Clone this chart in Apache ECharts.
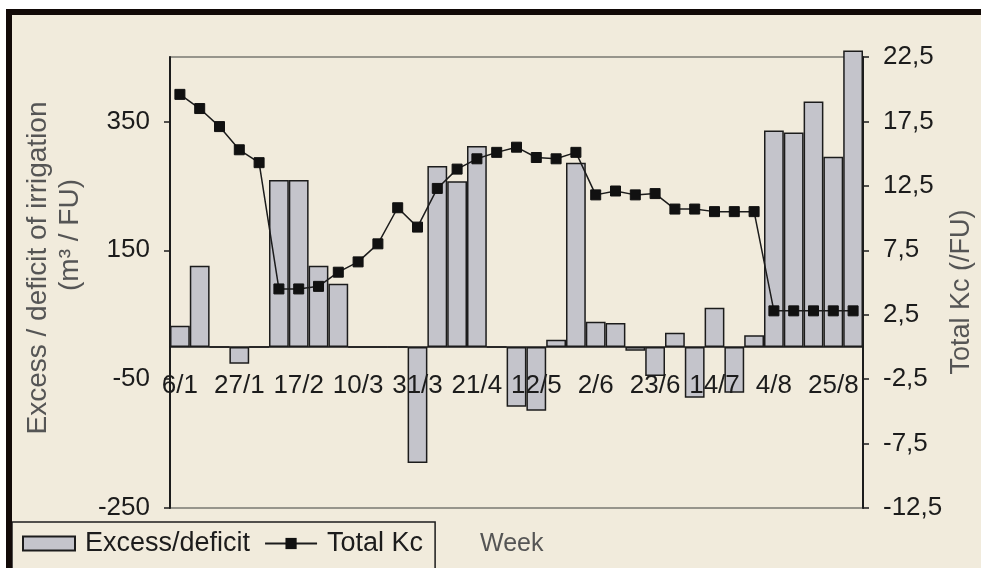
<!DOCTYPE html>
<html>
<head>
<meta charset="utf-8">
<style>
  html, body { margin: 0; padding: 0; background: #f1ebdc; }
  #chart { width: 981px; height: 568px; }
</style>
<script src="https://cdn.jsdelivr.net/npm/echarts@6/dist/echarts.min.js"></script>
</head>
<body>
<div id="chart"></div>
<script>
// Weekly irrigation balance and total crop coefficient
const weeks = [
  '6/1', '13/1', '20/1', '27/1', '3/2', '10/2', '17/2', '24/2', '3/3', '10/3',
  '17/3', '24/3', '31/3', '7/4', '14/4', '21/4', '28/4', '5/5', '12/5', '19/5',
  '26/5', '2/6', '9/6', '16/6', '23/6', '30/6', '7/7', '14/7', '21/7', '28/7',
  '4/8', '11/8', '18/8', '25/8', '1/9'
];

// Excess (+) or deficit (-) of irrigation, m3 per FU
const excessDeficit = [
  33, 126, 0, -26, 0, 259, 259, 126, 98, 0,
  0, 0, -180, 281, 257, 312, 0, -93, -99, 11,
  286, 39, 37, -6, -45, 22, -79, 61, -71, 18,
  336, 333, 381, 295, 460
];

// Total Kc per FU
const totalKc = [
  19.6, 18.5, 17.1, 15.3, 14.3, 4.5, 4.5, 4.7, 5.8, 6.6,
  8.0, 10.8, 9.3, 12.3, 13.8, 14.6, 15.1, 15.5, 14.7, 14.6,
  15.1, 11.8, 12.1, 11.8, 11.9, 10.7, 10.7, 10.5, 10.5, 10.5,
  2.8, 2.8, 2.8, 2.8, 2.8
];

const leftTicks = [-250, -50, 150, 350];
const rightTicks = [-12.5, -7.5, -2.5, 2.5, 7.5, 12.5, 17.5, 22.5];

const FONT = "'Liberation Sans', Arial, Helvetica, sans-serif";
const INK = '#1c1c1c';

const LEFT_MIN = -250, LEFT_MAX = 450;
const GRID = { left: 170, right: 118, top: 57, bottom: 60 };
const plotHeight = 568 - GRID.top - GRID.bottom;
// lift the category axis from the grid bottom up to the zero line of the left axis
const zeroLift = plotHeight * (0 - LEFT_MIN) / (LEFT_MAX - LEFT_MIN);

const chart = echarts.init(document.getElementById('chart'));

chart.setOption({
  backgroundColor: '#f1ebdc',
  animation: false,
  grid: Object.assign({}, GRID, {
    show: true, borderColor: '#7a7a72', borderWidth: 1.5,
    backgroundColor: 'transparent'
  }),
  legend: {
    left: 12, top: 522,
    padding: [8, 12, 14, 10],
    itemGap: 14, itemWidth: 52, itemHeight: 14,
    backgroundColor: '#f1ebdc', borderColor: INK, borderWidth: 1.5,
    textStyle: { fontSize: 27, color: INK, fontFamily: FONT, padding: [0, 0, 0, 5] },
    data: [
      { name: 'Excess/deficit', icon: 'rect' },
      { name: 'Total Kc' }
    ]
  },
  xAxis: {
    type: 'category',
    data: weeks,
    z: 5,
    offset: -zeroLift,
    axisLine: { onZero: false, lineStyle: { color: INK, width: 1.5 } },
    axisTick: { show: false },
    axisLabel: { interval: 2, fontSize: 26, color: INK, fontFamily: FONT, margin: 26 },
    splitLine: { show: false }
  },
  yAxis: [
    {
      type: 'value', min: LEFT_MIN, max: LEFT_MAX,
      axisLine: { show: true, lineStyle: { color: INK, width: 2 } },
      axisTick: { show: true, length: 6, customValues: leftTicks, lineStyle: { color: INK, width: 1.5 } },
      axisLabel: { customValues: leftTicks, fontSize: 26, color: INK, fontFamily: FONT, margin: 20 },
      splitLine: { show: false }
    },
    {
      type: 'value', min: -12.5, max: 22.5,
      axisLine: { show: true, lineStyle: { color: INK, width: 2 } },
      axisTick: { show: true, length: 6, customValues: rightTicks, lineStyle: { color: INK, width: 1.5 } },
      axisLabel: {
        customValues: rightTicks, fontSize: 26, color: INK, fontFamily: FONT, margin: 20,
        formatter: v => v.toFixed(1).replace('.', ',')
      },
      splitLine: { show: false }
    }
  ],
  series: [
    {
      name: 'Excess/deficit',
      type: 'bar',
      yAxisIndex: 0,
      data: excessDeficit,
      barCategoryGap: '0%',
      clip: false,
      itemStyle: { color: '#c4c4cb', borderColor: INK, borderWidth: 1.5 }
    },
    {
      name: 'Total Kc',
      type: 'line',
      yAxisIndex: 1,
      data: totalKc,
      symbol: 'rect',
      symbolSize: 10,
      z: 4,
      lineStyle: { color: INK, width: 1.5 },
      itemStyle: { color: '#111', borderColor: '#111' }
    }
  ],
  graphic: [
    { type: 'rect', z: 100, shape: { x: 0, y: 0, width: 981, height: 9 }, style: { fill: '#ffffff' } },
    { type: 'rect', z: 100, shape: { x: 0, y: 9, width: 6, height: 559 }, style: { fill: '#ffffff' } },
    { type: 'rect', z: 101, shape: { x: 6, y: 9, width: 975, height: 6 }, style: { fill: '#120a08' } },
    { type: 'rect', z: 101, shape: { x: 6, y: 9, width: 6, height: 559 }, style: { fill: '#120a08' } },
    {
      type: 'text', z: 100, x: 38, y: 268, rotation: Math.PI / 2,
      style: { text: 'Excess / deficit of irrigation', fontSize: 28, fontFamily: FONT, fill: '#555', align: 'center', verticalAlign: 'middle' }
    },
    {
      type: 'text', z: 100, x: 70, y: 235, rotation: Math.PI / 2,
      style: { text: '(m³ / FU)', fontSize: 28, fontFamily: FONT, fill: '#555', align: 'center', verticalAlign: 'middle' }
    },
    {
      type: 'text', z: 100, x: 962, y: 292, rotation: Math.PI / 2,
      style: { text: 'Total Kc (/FU)', fontSize: 27, fontFamily: FONT, fill: '#555', align: 'center', verticalAlign: 'middle' }
    },
    {
      type: 'text', z: 100, x: 480, y: 544,
      style: { text: 'Week', fontSize: 25, fontFamily: FONT, fill: '#555', align: 'left', verticalAlign: 'middle' }
    }
  ]
});
</script>
</body>
</html>
